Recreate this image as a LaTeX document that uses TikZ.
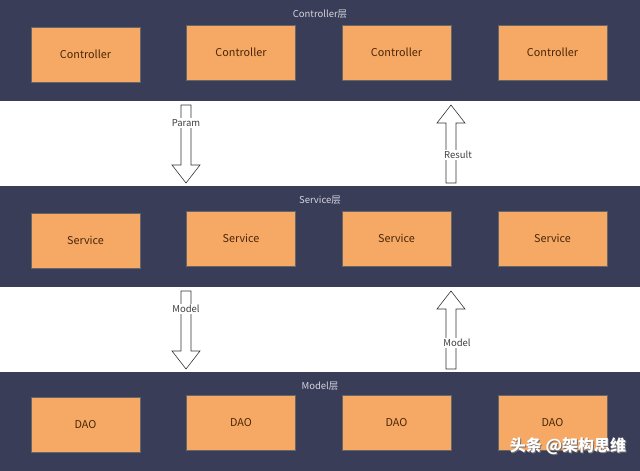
\documentclass[tikz,border=0pt]{standalone}
\usepackage{fontspec}
\setmainfont{Noto Sans CJK SC}
\usetikzlibrary{calc}
\definecolor{band}{HTML}{3A3D58}
\definecolor{boxfill}{HTML}{F6A964}
\definecolor{boxtext}{HTML}{4A2608}
\definecolor{layertext}{HTML}{D4D5DE}
\tikzset{
  x=1pt, y=-1pt,
  bandbox/.style={fill=band, draw=none},
  unitbox/.style={fill=boxfill, draw=black!60, line width=0.4pt, minimum width=109pt, minimum height=55pt, inner sep=0pt, font=\fontsize{10.8}{12}\selectfont, text=boxtext},
  layerlabel/.style={font=\fontsize{9.5}{11}\selectfont, text=layertext, inner sep=1pt},
  arrowlabel/.style={font=\fontsize{9.5}{11}\selectfont, text=black!75, fill=white, inner sep=1pt},
  fatarrow/.style={draw=black!80, fill=white, line width=0.6pt, line join=miter},
  watermark/.style={font=\fontsize{16}{18}\selectfont\bfseries, inner sep=0pt}
}
\newcommand{\downarrowshape}[2]{% from coordinate #1 to coordinate #2
  \draw[fatarrow] ($(#1)+(-5,0)$) -- ($(#1)+(5,0)$) -- ($(#2)+(5,-18)$) -- ($(#2)+(14,-18)$) -- (#2) -- ($(#2)+(-14,-18)$) -- ($(#2)+(-5,-18)$) -- cycle;}
\newcommand{\uparrowshape}[2]{% from coordinate #1 (bottom) to coordinate #2 (top)
  \draw[fatarrow] ($(#1)+(-5,0)$) -- ($(#1)+(5,0)$) -- ($(#2)+(5,18)$) -- ($(#2)+(14,18)$) -- (#2) -- ($(#2)+(-14,18)$) -- ($(#2)+(-5,18)$) -- cycle;}
\begin{document}
\begin{tikzpicture}
\useasboundingbox (0,0) rectangle (640,471);
\fill[white] (0,0) rectangle (640,471);
% bands
\path[bandbox] (0,0) rectangle (640,101);
\path[bandbox] (0,186) rectangle (640,287);
\path[bandbox] (0,372) rectangle (640,471);
% layer labels
\node[layerlabel] (lc) at (320,14) {Controller层};
\node[layerlabel] (ls) at (320,200) {Service层};
\node[layerlabel] (lm) at (320,386) {Model层};
% controllers
\node[unitbox] (c1) at (85.5,54.5) {Controller};
\node[unitbox] (c2) at (241,52.5) {Controller};
\node[unitbox] (c3) at (396.5,52.5) {Controller};
\node[unitbox] (c4) at (552.5,52.5) {Controller};
% services
\node[unitbox] (s1) at (85.5,240.5) {Service};
\node[unitbox] (s2) at (241,238.5) {Service};
\node[unitbox] (s3) at (396.5,238.5) {Service};
\node[unitbox] (s4) at (552.5,238.5) {Service};
% DAOs
\node[unitbox] (d1) at (85.5,424.5) {DAO};
\node[unitbox] (d2) at (241,422.5) {DAO};
\node[unitbox] (d3) at (396.5,422.5) {DAO};
\node[unitbox] (d4) at (552.5,422.5) {DAO};
% arrows between controller and service
\coordinate (pa1) at (186,105);
\coordinate (pa2) at (186,183);
\downarrowshape{pa1}{pa2}
\node[arrowlabel] (param) at (186,123) {Param};
\coordinate (ra1) at (451,183);
\coordinate (ra2) at (451,105);
\uparrowshape{ra1}{ra2}
\node[arrowlabel] (result) at (458,155) {Result};
% arrows between service and model
\coordinate (ma1) at (186,291);
\coordinate (ma2) at (186,369);
\downarrowshape{ma1}{ma2}
\node[arrowlabel] (model1) at (186,309) {Model};
\coordinate (mb1) at (451,369);
\coordinate (mb2) at (451,291);
\uparrowshape{mb1}{mb2}
\node[arrowlabel] (model2) at (457,343) {Model};
% watermark
\node[watermark, text=black!55] (wmshadow) at (569,447) {头条 @架构思维};
\node[watermark, text=white] (wm) at (568,446) {头条 @架构思维};
\end{tikzpicture}
\end{document}
